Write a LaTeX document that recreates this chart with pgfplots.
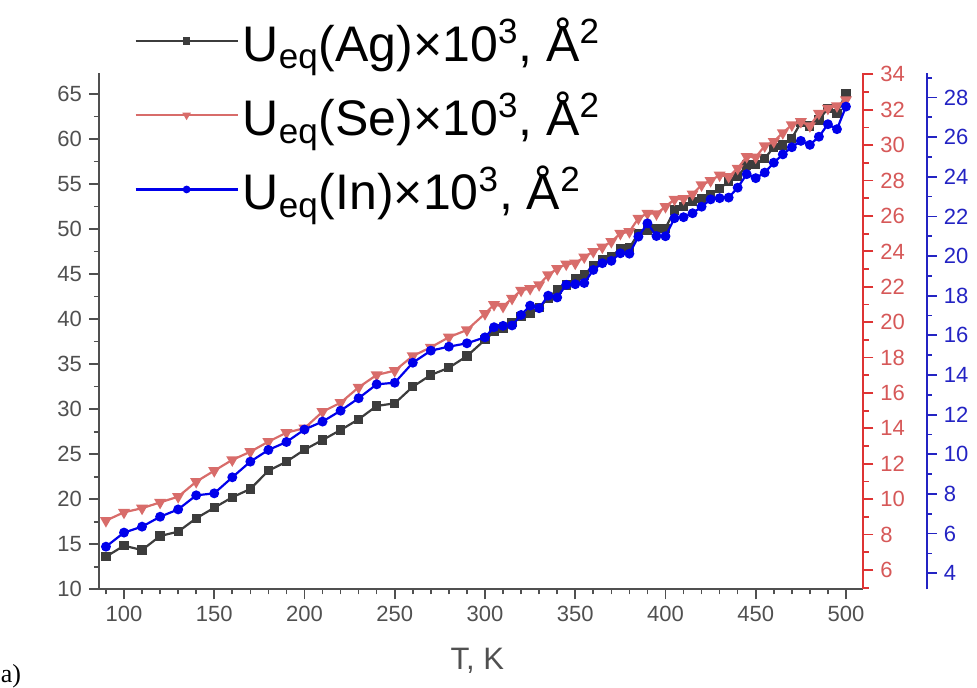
\documentclass[border=0pt]{standalone}
\usepackage{fontspec}
\setmainfont{Liberation Sans}
\newfontfamily\serifa{Liberation Serif}
\usepackage{pgfplots}
\usepackage{pgfplotstable}
\pgfplotsset{compat=1.18}
\definecolor{agc}{RGB}{60,60,60}
\definecolor{sec}{RGB}{216,108,106}
\definecolor{inc}{RGB}{0,0,235}
\definecolor{redax}{RGB}{222,52,52}
\definecolor{redlab}{RGB}{214,88,88}
\definecolor{blueax}{RGB}{35,35,195}
\definecolor{grayax}{RGB}{80,80,80}

\pgfplotstableread{
T Ag
90 13.62
100 14.84
110 14.36
120 15.92
130 16.40
140 17.88
150 19.06
160 20.22
170 21.14
180 23.17
190 24.17
200 25.50
210 26.58
220 27.69
230 28.88
240 30.36
250 30.65
260 32.50
270 33.80
280 34.60
290 35.90
300 37.70
305 38.60
310 39.00
315 39.60
320 40.30
325 40.60
330 41.30
335 42.30
340 43.30
345 43.80
350 44.50
355 44.90
360 46.00
365 46.57
370 46.93
375 47.87
380 47.90
385 49.53
390 49.90
395 50.09
400 50.10
405 52.12
410 52.49
415 53.04
420 53.42
425 53.79
430 54.53
435 55.26
440 55.82
445 57.12
450 57.15
455 57.86
460 59.08
465 59.34
470 60.08
475 61.82
480 61.45
485 62.12
490 63.41
495 62.86
500 65.08
}\agdata

\pgfplotstableread{
T Se
90 8.79
100 9.26
110 9.49
120 9.82
130 10.14
140 10.99
150 11.61
160 12.22
170 12.68
180 13.25
190 13.76
200 14.01
210 14.94
220 15.45
230 16.32
240 17.02
250 17.26
260 18.09
270 18.58
280 19.15
290 19.56
300 20.48
305 20.99
310 20.89
315 21.34
320 21.80
325 21.90
330 22.11
335 22.67
340 23.02
345 23.28
350 23.33
355 23.68
360 23.99
365 24.24
370 24.55
375 25.01
380 25.11
385 25.87
390 26.15
395 26.12
400 26.53
405 26.94
410 26.98
415 27.24
420 27.75
425 27.99
430 28.31
435 28.22
440 28.69
445 29.35
450 29.32
455 29.96
460 30.20
465 30.70
470 31.14
475 31.33
480 31.09
485 31.80
490 32.08
495 32.22
500 32.56
}\sedata

\pgfplotstableread{
T In
90 5.34
100 6.05
110 6.35
120 6.85
130 7.22
140 7.93
150 8.03
160 8.84
170 9.63
180 10.22
190 10.62
200 11.25
210 11.65
220 12.20
230 12.83
240 13.53
250 13.61
260 14.62
270 15.23
280 15.43
290 15.60
300 15.90
305 16.41
310 16.48
315 16.50
320 17.03
325 17.50
330 17.37
335 18.00
340 17.91
345 18.55
350 18.58
355 18.64
360 19.30
365 19.64
370 19.76
375 20.14
380 20.12
385 20.98
390 21.65
395 21.01
400 21.00
405 21.91
410 21.96
415 22.16
420 22.49
425 22.86
430 22.92
435 22.95
440 23.45
445 24.13
450 23.93
455 24.21
460 24.71
465 25.13
470 25.49
475 25.81
480 25.61
485 26.02
490 26.65
495 26.40
500 27.54
}\indata

\pgfplotsset{
  base/.style={
    scale only axis, width=382.15pt, height=258pt,
    xmin=86.15, xmax=509.6,
    at={(0pt,0pt)}, anchor=south west,
    /pgf/number format/assume math mode=true,
    tick label style={font=\fontsize{11}{13}\selectfont},
    major tick length=5pt, minor tick length=2.6pt,
    tick align=outside,
    axis line style={-},
  },
}

\begin{document}
\begin{tikzpicture}
\begin{axis}[base,
  ymin=10, ymax=67.3,
  axis x line*=bottom, axis y line*=left,
  xtick={100,150,...,500}, minor xtick={90,100,...,500},
  ytick={10,15,...,65}, minor ytick={12.5,17.5,...,62.5},
  axis line style={grayax, line width=0.8pt},
  tick style={grayax, line width=0.8pt},
  tick label style={text=grayax},
  xlabel={T, K},
  xlabel style={font=\fontsize{15.5}{18}\selectfont, text=grayax, at={(axis description cs:0.495,-0.139)}, anchor=center},
  legend cell align=left,
  legend style={at={(0,1)}, anchor=north west, xshift=14.5pt, yshift=32pt,
    draw=none, fill=none, font=\fontsize{25}{30}\selectfont, row sep=9.8pt},
  legend image code/.code={%
    \draw[mark repeat=2,mark phase=2,#1] plot coordinates {(0pt,0pt)(25.5pt,0pt)(51pt,0pt)};},
  legend image post style={mark size=1.3pt, line width=1.2pt},
]
\addplot[agc, line width=1.1pt, mark=square*, mark size=1.75pt, mark options={fill=agc}] table[x=T,y=Ag] {\agdata};
\addlegendentry{U\textsubscript{eq}(Ag)×10\textsuperscript{3}, Å\textsuperscript{2}}
\addlegendimage{sec, mark=triangle*, mark options={rotate=180, fill=sec}}
\addlegendentry{U\textsubscript{eq}(Se)×10\textsuperscript{3}, Å\textsuperscript{2}}
\addlegendimage{inc, mark=*, mark options={fill=inc}}
\addlegendentry{U\textsubscript{eq}(In)×10\textsuperscript{3}, Å\textsuperscript{2}}
\end{axis}

\begin{axis}[base,
  ymin=4.91, ymax=34.06,
  hide x axis, axis y line*=right,
  ytick={6,8,...,34}, minor ytick={5,7,...,33},
  axis line style={redax, line width=0.9pt},
  y tick style={redax, line width=0.9pt},
  yticklabel style={text=redlab},
]
\addplot[sec, line width=1.1pt, mark=triangle*, mark size=2.4pt, mark options={rotate=180, fill=sec}] table[x=T,y=Se] {\sedata};
\end{axis}

\begin{axis}[base,
  ymin=3.19, ymax=29.22,
  hide x axis, axis y line*=right,
  ytick={4,6,...,28}, minor ytick={5,7,...,29},
  axis line style={blueax, line width=0.9pt},
  y axis line style={xshift=31.7pt},
  y tick style={blueax, line width=0.9pt, xshift=31.7pt},
  yticklabel style={text=blueax, xshift=31.7pt},
]
\addplot[inc, line width=1.1pt, mark=*, mark size=1.9pt, mark options={fill=inc}] table[x=T,y=In] {\indata};
\end{axis}

\node[anchor=base west, font=\serifa\fontsize{13}{15}\selectfont, inner sep=0pt] at (-49.3pt,-46.8pt) {a)};
\pgfresetboundingbox
\path (-49.5pt,-49.35pt) rectangle (439pt,294.65pt);
\end{tikzpicture}
\end{document}
